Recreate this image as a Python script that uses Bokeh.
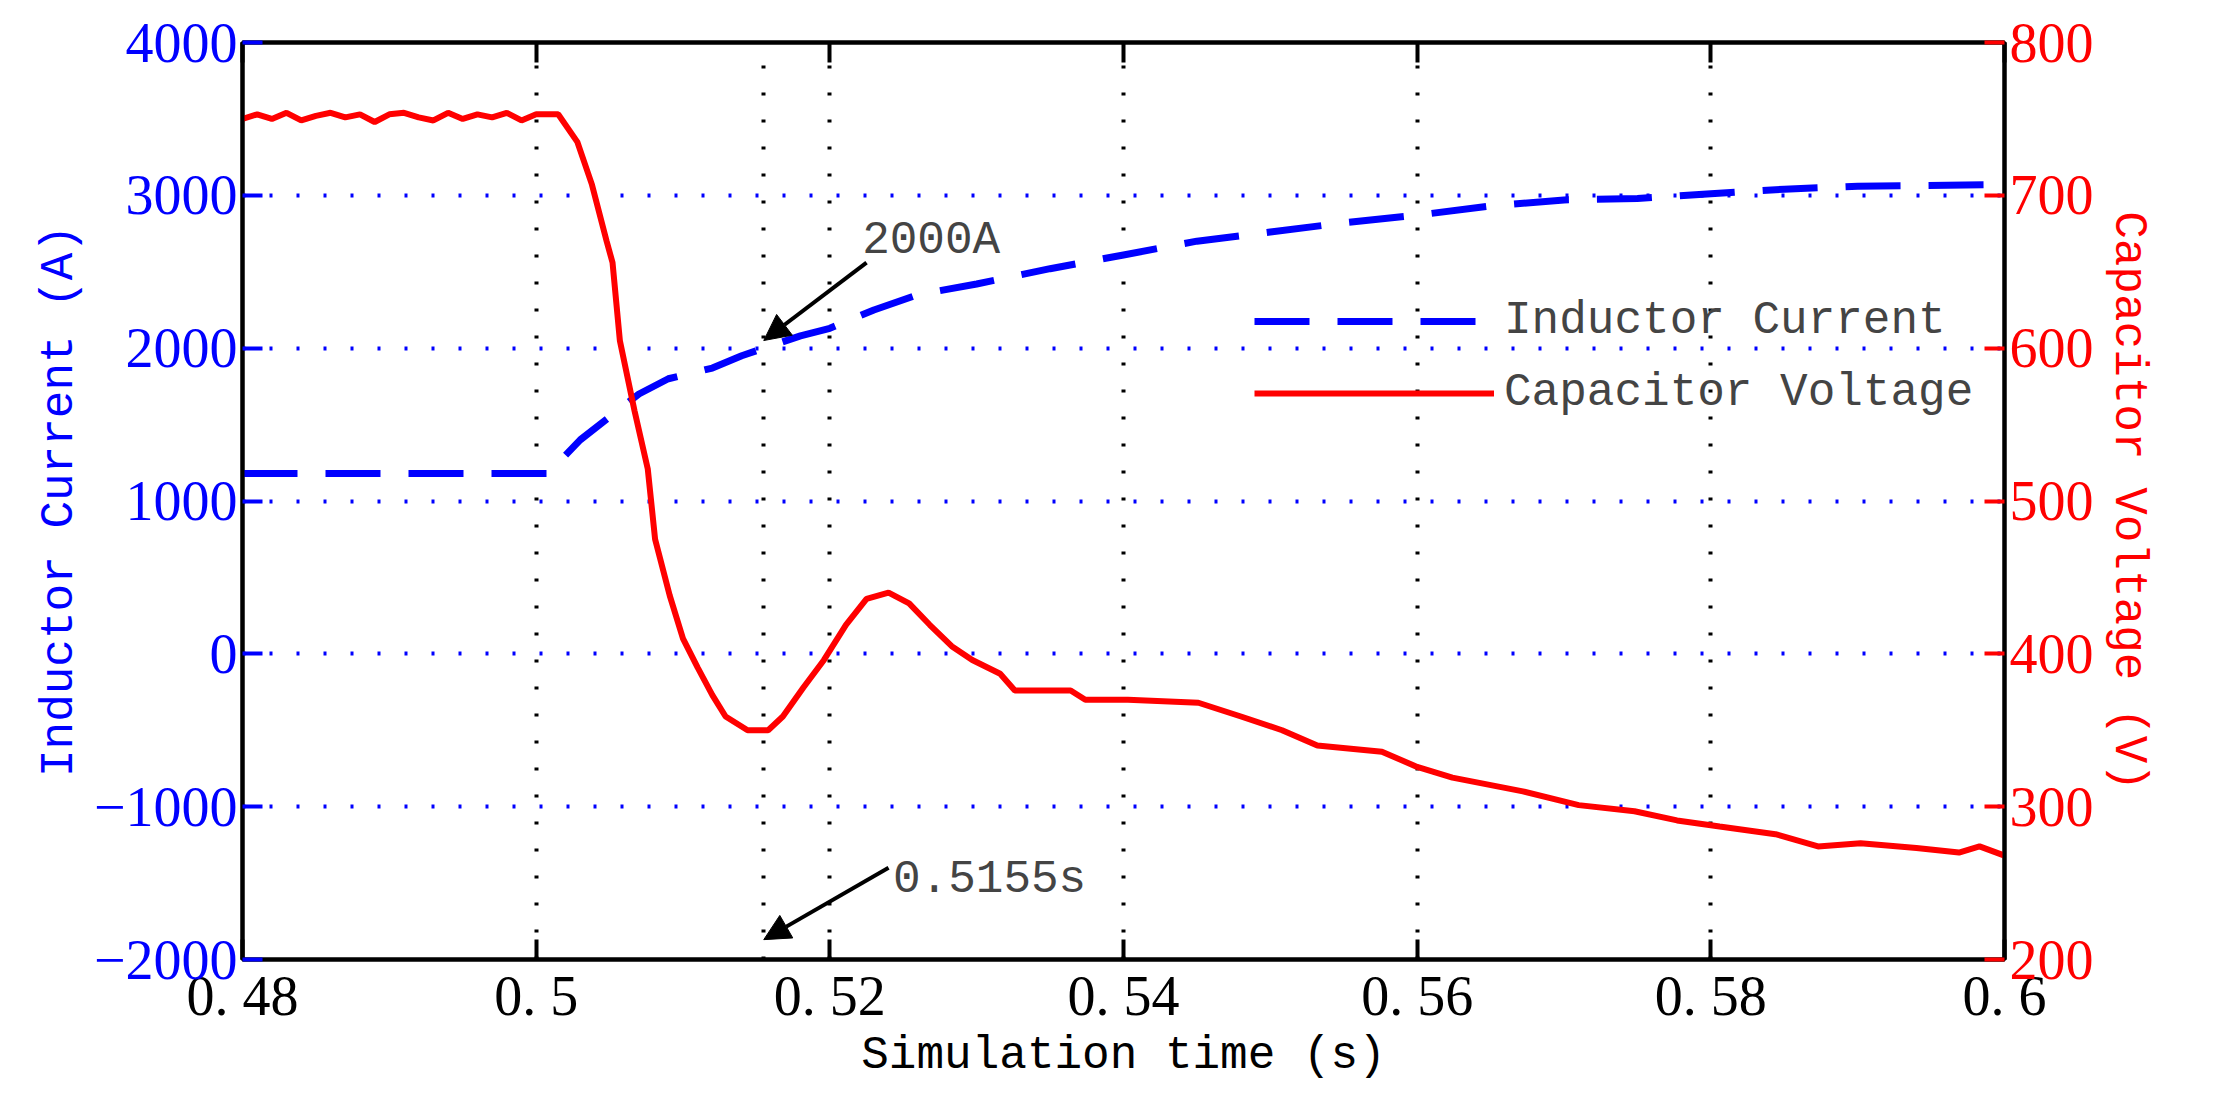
from bokeh.plotting import figure
from bokeh.models import Range1d, LinearAxis, FixedTicker, Arrow, NormalHead, Label, Legend, LegendItem
from bokeh.embed import file_html
from bokeh.resources import INLINE

t_v = [0.480,0.481,0.482,0.483,0.484,0.485,0.486,0.487,0.488,0.489,0.490,0.491,0.492,0.493,0.494,0.495,0.496,0.497,0.498,0.499,0.500,0.5015,0.5028,0.5038,0.5048,0.5052,0.5057,0.5067,0.5076,0.5081,0.5091,0.5100,0.5110,0.5120,0.5129,0.5144,0.5158,0.5168,0.5182,0.5196,0.5211,0.5225,0.5240,0.5254,0.5268,0.5283,0.5297,0.5316,0.5326,0.5364,0.5374,0.5403,0.5451,0.5480,0.5508,0.5532,0.5576,0.5600,0.5624,0.5672,0.5710,0.5748,0.5777,0.5806,0.5844,0.5873,0.5902,0.5940,0.5969,0.5983,0.6000]
v_cap = [750,753,750,754,749,752,754,751,753,748,753,754,751,749,754,750,753,751,754,749,753,753,735,707,670,656,605,559,521,475,438,410,391,373,359,350,350,359,378,396,419,436,440,433,419,405,396,387,376,376,370,370,368,359,350,340,336,326,319,310,301,297,291,287,282,274,276,273,270,274,268]
t_i = [0.480,0.501,0.5015,0.503,0.505,0.507,0.509,0.512,0.514,0.5155,0.518,0.520,0.523,0.526,0.530,0.535,0.540,0.545,0.550,0.555,0.560,0.565,0.570,0.575,0.580,0.585,0.590,0.600]
i_ind = [1180,1180,1250,1400,1550,1700,1800,1870,1950,2000,2080,2130,2250,2350,2420,2520,2610,2700,2760,2820,2870,2930,2970,2980,3010,3040,3060,3070]
x_ticks = [0.48,0.5,0.52,0.54,0.56,0.58,0.6]
y_ticks = [-2000,-1000,0,1000,2000,3000,4000]
v_ticks = [200,300,400,500,600,700,800]
x_grid = [0.5,0.5155,0.52,0.54,0.56,0.58]
y_grid = [-1000,0,1000,2000,3000]
mark_t, mark_i = 0.5155, 2000

MONO = "Liberation Mono"
SERIF = "Liberation Serif"

p = figure(width=2195, height=1085, output_backend="svg", toolbar_location=None,
           x_range=Range1d(0.48, 0.6), y_range=Range1d(-2000, 4000),
           min_border_left=242, min_border_right=191, min_border_top=42, min_border_bottom=126)
p.extra_y_ranges = {"v": Range1d(200, 800)}
p.outline_line_color = "black"
p.outline_line_width = 4

def style(ax, color, ticks):
    ax.ticker = FixedTicker(ticks=ticks)
    ax.major_tick_in = 20
    ax.major_tick_out = 0
    ax.minor_tick_line_color = None
    ax.major_tick_line_color = color
    ax.major_tick_line_width = 4
    ax.axis_line_color = "black"
    ax.axis_line_width = 4
    ax.major_label_text_color = color
    ax.major_label_text_font = SERIF
    ax.major_label_text_font_size = "56px"
    ax.axis_label_text_font = MONO
    ax.axis_label_text_font_size = "46px"
    ax.axis_label_text_font_style = "normal"
    ax.axis_label_text_color = color

style(p.xaxis[0], "black", x_ticks)
p.xaxis[0].axis_label = "Simulation time (s)"
p.xaxis[0].axis_label_standoff = 0
p.xaxis[0].major_label_overrides = {0.48: "0. 48", 0.5: "0. 5", 0.52: "0. 52", 0.54: "0. 54", 0.56: "0. 56", 0.58: "0. 58", 0.6: "0. 6"}
style(p.yaxis[0], "blue", y_ticks)
p.yaxis[0].axis_label = "Inductor Current (A)"
p.yaxis[0].major_label_overrides = {-2000: "−2000"}
ra = LinearAxis(y_range_name="v", axis_label="Capacitor Voltage (V)")
style(ra, "red", v_ticks)
p.add_layout(ra, "right")
ta = LinearAxis()
style(ta, "black", x_ticks)
ta.major_label_text_color = None
ta.major_label_text_font_size = "1px"
p.add_layout(ta, "above")

p.xgrid.ticker = FixedTicker(ticks=x_grid)
p.xgrid.grid_line_color = "black"
p.xgrid.grid_line_dash = "3 24"
p.xgrid.grid_line_width = 4
p.ygrid.ticker = FixedTicker(ticks=y_grid)
p.ygrid.grid_line_color = "blue"
p.ygrid.grid_line_dash = "3 24"
p.ygrid.grid_line_width = 4

r_i = p.line(t_i, i_ind, line_color="blue", line_width=7, line_dash="55 28")
r_v = p.line(t_v, v_cap, line_color="red", line_width=6, y_range_name="v")

p.add_layout(Arrow(end=NormalHead(size=26, fill_color="black", line_color="black"),
                   x_start=0.5225, y_start=2560, x_end=mark_t, y_end=2050, line_width=4))
p.add_layout(Label(x=0.5222, y=2700, text="2000A", text_font=MONO, text_font_size="46px",
                   text_baseline="middle"))
p.add_layout(Arrow(end=NormalHead(size=26, fill_color="black", line_color="black"),
                   x_start=0.524, y_start=-1400, x_end=mark_t, y_end=-1870, line_width=4))
p.add_layout(Label(x=0.5243, y=-1480, text="0.5155s", text_font=MONO, text_font_size="46px",
                   text_baseline="middle"))

leg = Legend(items=[LegendItem(label="Inductor Current", renderers=[r_i]),
                    LegendItem(label="Capacitor Voltage", renderers=[r_v])],
             location=(1012, 540), border_line_color=None, background_fill_alpha=0,
             label_text_font=MONO, label_text_font_size="46px", glyph_width=240,
             glyph_height=40, spacing=20, margin=0, padding=0, label_standoff=10)
p.add_layout(leg)

open("out.html", "w").write(file_html(p, INLINE))
